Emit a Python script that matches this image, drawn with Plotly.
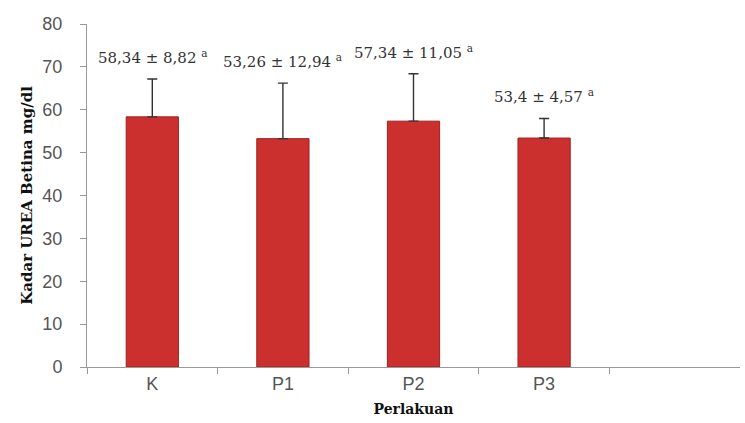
import plotly.graph_objects as go

# Treatment groups and female urea levels (mg/dl)
categories = ["K", "P1", "P2", "P3"]
means = [58.34, 53.26, 57.34, 53.4]
sds = [8.82, 12.94, 11.05, 4.57]
letters = ["a", "a", "a", "a"]

def fmt(v):
    return f"{v:g}".replace(".", ",")

labels = [f"{fmt(m)} ± {fmt(s)} <sup>{l}</sup>" for m, s, l in zip(means, sds, letters)]

fig = go.Figure()
fig.add_trace(go.Bar(
    x=categories,
    y=means,
    width=0.4,
    marker=dict(color="#CC302E", line=dict(color="#9E2222", width=1)),
    error_y=dict(type="data", array=sds, arrayminus=[0] * len(sds), symmetric=False,
                 color="#333333", thickness=1.4, width=5),
    showlegend=False,
))

for c, m, s, t in zip(categories, means, sds, labels):
    fig.add_annotation(x=c, y=m + s, text=t, showarrow=False, yanchor="bottom", yshift=10,
                       font=dict(family="DejaVu Serif", size=15, color="#333333"))

fig.update_layout(
    width=745, height=423,
    margin=dict(l=87, r=5, t=24, b=56),
    paper_bgcolor="white", plot_bgcolor="white",
    bargap=0.6,
)
fig.update_xaxes(
    type="category", range=[-0.5, 4.5], tickson="boundaries",
    ticks="outside", ticklen=6, tickcolor="#999999",
    showline=True, linecolor="#999999", linewidth=1,
    tickfont=dict(family="Arial", size=18, color="#555555"),
    title=dict(text="<b>Perlakuan</b>", standoff=11,
               font=dict(family="DejaVu Serif", size=14, color="#111111")),
)
fig.update_yaxes(
    range=[0, 80], dtick=10, showgrid=False, zeroline=False,
    ticks="outside", ticklen=6, tickcolor="#999999", ticklabelstandoff=14,
    showline=True, linecolor="#999999", linewidth=1,
    tickfont=dict(family="Arial", size=18, color="#555555"),
    title=dict(text="<b>Kadar UREA Betina mg/dl</b>", standoff=6,
               font=dict(family="DejaVu Serif", size=15, color="#111111")),
)

fig.write_html("out.html")
